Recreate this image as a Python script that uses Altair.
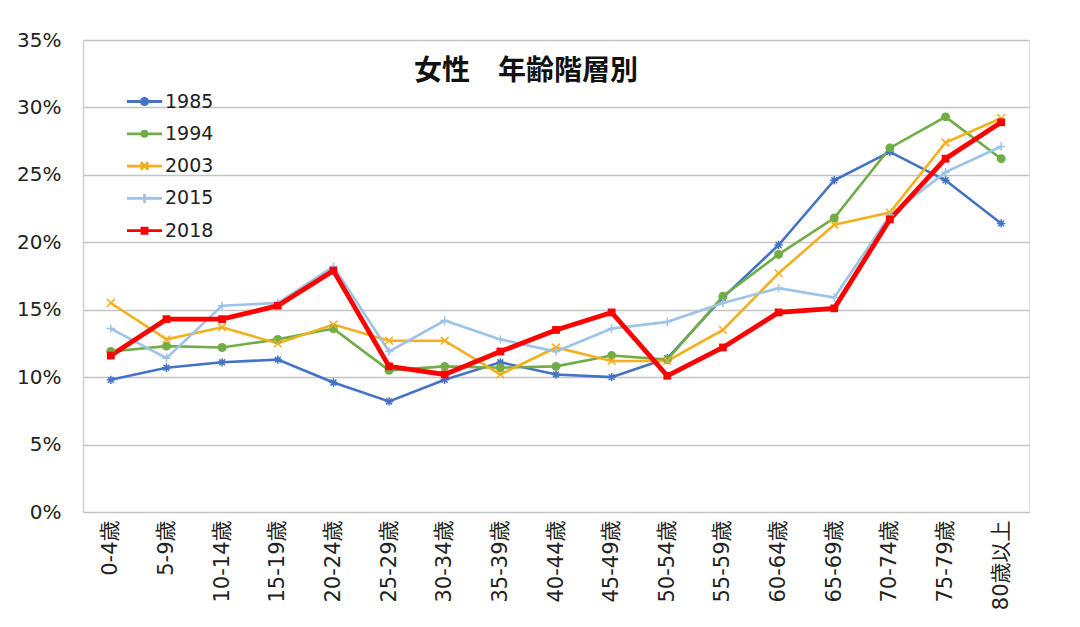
import altair as alt
import pandas as pd

ages = ["0-4歳", "5-9歳", "10-14歳", "15-19歳", "20-24歳", "25-29歳", "30-34歳",
        "35-39歳", "40-44歳", "45-49歳", "50-54歳", "55-59歳", "60-64歳", "65-69歳",
        "70-74歳", "75-79歳", "80歳以上"]
years = ["1985", "1994", "2003", "2015", "2018"]
v1985 = [9.8, 10.7, 11.1, 11.3, 9.6, 8.2, 9.8, 11.1, 10.2, 10.0, 11.4, 15.9, 19.8, 24.6, 26.7, 24.6, 21.4]
v1994 = [11.9, 12.3, 12.2, 12.8, 13.6, 10.5, 10.8, 10.7, 10.8, 11.6, 11.3, 16.0, 19.1, 21.8, 27.0, 29.3, 26.2]
v2003 = [15.5, 12.8, 13.7, 12.5, 13.9, 12.7, 12.7, 10.2, 12.2, 11.2, 11.2, 13.5, 17.7, 21.3, 22.2, 27.4, 29.2]
v2015 = [13.6, 11.4, 15.3, 15.5, 18.2, 11.9, 14.2, 12.8, 11.9, 13.6, 14.1, 15.5, 16.6, 15.9, 22.0, 25.2, 27.1]
v2018 = [11.6, 14.3, 14.3, 15.3, 17.9, 10.8, 10.2, 11.9, 13.5, 14.8, 10.1, 12.2, 14.8, 15.1, 21.7, 26.2, 28.9]
series = [v1985, v1994, v2003, v2015, v2018]
colors = ["#4472C4", "#70AD47", "#F2B01E", "#9DC3E6", "#FF0000"]
widths = [2.6, 2.6, 2.6, 2.6, 4.8]

rows = []
for y, vals in zip(years, series):
    for a, v in zip(ages, vals):
        rows.append({"age": a, "year": y, "value": v / 100})
df = pd.DataFrame(rows)

FONT = "DejaVu Sans, Noto Sans CJK JP"

# marker paths
P_AST = "M-1,0L1,0M0,-1L0,1M-0.7,-0.7L0.7,0.7M-0.7,0.7L0.7,-0.7"
P_X = "M-1,-1L1,1M-1,1L1,-1"
P_PLUS = "M-1,0L1,0M0,-1L0,1"

# legend symbol paths (line + marker), unit box [-1,1]
LINE = "M-1.17,0L1.17,0"
L_AST = LINE + "M-0.3,0L0.3,0M0,-0.3L0,0.3M-0.22,-0.22L0.22,0.22M-0.22,0.22L0.22,-0.22"
L_CIRC = LINE + "M0.17,0A0.17,0.17 0 1,1 -0.17,0A0.17,0.17 0 1,1 0.17,0Z"
L_X = LINE + "M-0.25,-0.25L0.25,0.25M-0.25,0.25L0.25,-0.25"
L_PLUS = LINE + "M0,-0.3L0,0.3"
L_SQ = LINE + "M-0.17,-0.17L0.17,-0.17L0.17,0.17L-0.17,0.17Z"
legend_paths = [L_AST, L_CIRC, L_X, L_PLUS, L_SQ]

x_enc = alt.X("age:N", sort=ages, title=None,
              axis=alt.Axis(labelAngle=-90, labelFontSize=21, labelFont=FONT, labelColor="#222222",
                            ticks=False, domain=False, labelPadding=8, grid=False))
y_enc = alt.Y("value:Q", title=None,
              scale=alt.Scale(domain=[0, 0.35], nice=False),
              axis=alt.Axis(format=".0%", values=[0, 0.05, 0.1, 0.15, 0.2, 0.25, 0.3, 0.35],
                            labelFontSize=20, labelFont=FONT, labelColor="#222222",
                            ticks=False, labelPadding=22, domain=True, domainColor="#d0d0d0",
                            domainWidth=1.5, grid=True, gridColor="#c4c4c4", gridWidth=1.5))

legend_props = dict(orient="none", legendX=45, legendY=45, title=None,
                    labelFontSize=19, labelFont=FONT, labelColor="#222222",
                    symbolSize=900, symbolStrokeWidth=2.8, labelOffset=4, rowPadding=5.3)

layers = []
for y, c, w in zip(years, colors, widths):
    layers.append(
        alt.Chart(df).transform_filter(alt.datum.year == y).mark_line(
            color=c, strokeWidth=w
        ).encode(x=x_enc, y=y_enc)
    )

shapes = [P_AST, "circle", P_X, P_PLUS, "square"]
filled = [False, True, False, False, True]
sizes = [70, 80, 60, 70, 60]
for y, c, s, f, sz in zip(years, colors, shapes, filled, sizes):
    layers.append(
        alt.Chart(df).transform_filter(alt.datum.year == y).mark_point(
            shape=s, filled=f, color=c, size=sz, strokeWidth=1.5, opacity=1
        ).encode(x=x_enc, y=y_enc)
    )

legend_layer = alt.Chart(df).transform_filter(alt.datum.value < 0).mark_point(
    filled=False, size=900, strokeWidth=2.8, opacity=1
).encode(
    x=x_enc, y=y_enc,
    color=alt.Color("year:N", scale=alt.Scale(domain=years, range=colors),
                    legend=alt.Legend(**legend_props)),
    shape=alt.Shape("year:N", scale=alt.Scale(domain=years, range=legend_paths),
                    legend=alt.Legend(**legend_props)),
)
layers.append(legend_layer)

chart = alt.layer(*layers).properties(
    width=946, height=472,
    title=alt.TitleParams("女性　年齢階層別", fontSize=28, font="Noto Sans CJK JP", fontWeight="bold",
                          color="#111111", anchor="middle", offset=-56, dx=-30),
    autosize=alt.AutoSizeParams(type="none"),
    padding={"left": 83, "top": 40, "right": 51, "bottom": 115},
).configure_view(stroke=None).configure(background="white")

chart.save("out.html", embed_options={"renderer": "svg", "actions": False})
